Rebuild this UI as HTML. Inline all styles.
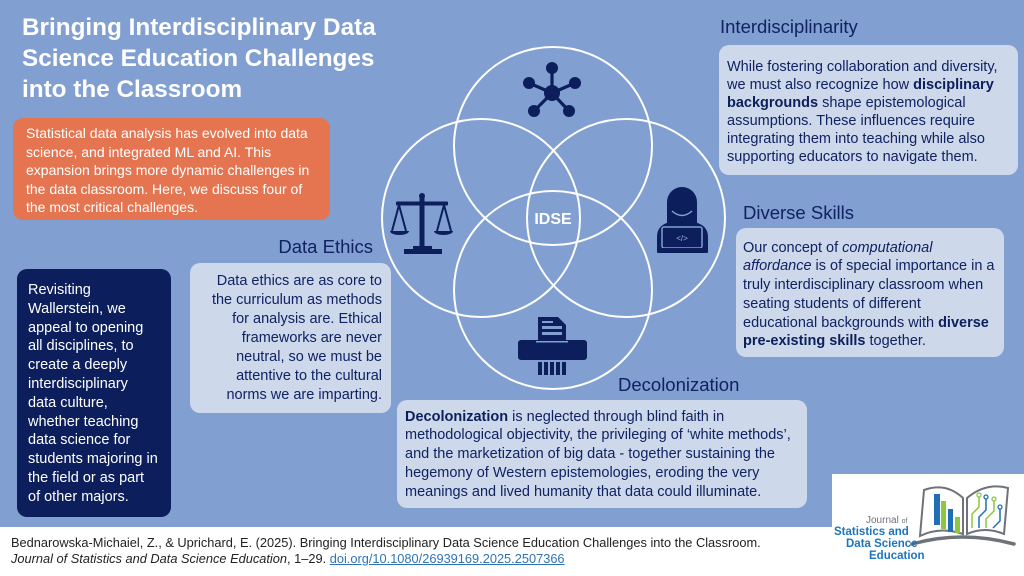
<!DOCTYPE html>
<html><head><meta charset="utf-8">
<style>
*{margin:0;padding:0;box-sizing:border-box}
html,body{width:1024px;height:576px;overflow:hidden}
body{position:relative;background:#819FD0;font-family:"Liberation Sans",sans-serif;}
.abs{position:absolute}
.box{position:absolute;border-radius:10px;white-space:nowrap;font-size:14.5px}
.light{background:#CDD8EA;color:#102262}
.light b{color:#0C1F5C}
.h{position:absolute;font-size:18.5px;color:#102262;white-space:nowrap;line-height:22px}
</style></head>
<body>
<div class="abs" style="left:0;top:527px;width:1024px;height:49px;background:#fff"></div>
<svg class="abs" style="left:0;top:0" width="1024" height="576" viewBox="0 0 1024 576">
  <rect x="832" y="474" width="192" height="102" fill="#fff"/>
  <g fill="none" stroke="#fff" stroke-width="2">
    <circle cx="553" cy="146" r="99"/>
    <circle cx="481" cy="218" r="99"/>
    <circle cx="626" cy="218" r="99"/>
    <circle cx="553" cy="290" r="99"/>
  </g>
  <text x="553" y="224" font-family="Liberation Sans, sans-serif" font-size="16" font-weight="bold" fill="#fff" text-anchor="middle">IDSE</text>

  <!-- network icon -->
  <g stroke="#0C1F5C" stroke-width="3.2">
    <line x1="552" y1="93" x2="552" y2="68"/>
    <line x1="552" y1="93" x2="529" y2="83"/>
    <line x1="552" y1="93" x2="575" y2="83"/>
    <line x1="552" y1="93" x2="534" y2="111"/>
    <line x1="552" y1="93" x2="569" y2="111"/>
  </g>
  <g fill="#0C1F5C">
    <circle cx="552" cy="93" r="8"/>
    <circle cx="552" cy="68" r="6"/>
    <circle cx="529" cy="83" r="6"/>
    <circle cx="575" cy="83" r="6"/>
    <circle cx="534" cy="111" r="6"/>
    <circle cx="569" cy="111" r="6"/>
  </g>

  <!-- scale icon -->
  <g fill="#0C1F5C">
    <circle cx="422" cy="196" r="3"/>
    <rect x="419.5" y="196" width="5" height="52"/>
    <rect x="396" y="201.5" width="52" height="4" rx="1"/>
    <path d="M390 231 H409 A9.5 4 0 0 1 390 231Z"/>
    <path d="M434 231 H453 A9.5 4 0 0 1 434 231Z"/>
    <rect x="413" y="246" width="19" height="3"/>
    <rect x="404" y="249" width="38" height="5"/>
  </g>
  <path d="M399 205 L392 231 M399 205 L406 231 M444 205 L437 231 M444 205 L451 231" stroke="#0C1F5C" stroke-width="2" fill="none"/>

  <!-- person with laptop -->
  <g fill="#0C1F5C">
    <path d="M667 223 V202 A15 15 0 0 1 697 202 V223 Z"/>
    <path d="M657 252 V237 Q657 225 670 222 L694 222 Q708 225 708 237 V252 Z"/>
  </g>
  <path d="M672 211 Q682 220 692 211" stroke="#819FD0" stroke-width="1.5" fill="none"/>
  <rect x="662" y="227" width="40" height="21" rx="2" fill="#0C1F5C" stroke="#819FD0" stroke-width="1.5"/>
  <text x="682" y="241" font-family="Liberation Sans, sans-serif" font-size="8" fill="#9DB4DA" text-anchor="middle">&lt;/&gt;</text>
  <rect x="657" y="248" width="51" height="5" rx="1" fill="#0C1F5C"/>

  <!-- shredder -->
  <path d="M538 317 H558 L566 325 V341 H538 Z" fill="#0C1F5C"/>
  <rect x="542" y="321" width="11" height="2" fill="#819FD0"/>
  <rect x="542" y="326" width="20" height="3" fill="#819FD0"/>
  <rect x="542" y="332" width="20" height="3" fill="#819FD0"/>
  <rect x="518" y="340" width="69" height="20" rx="3" fill="#0C1F5C"/>
  <rect x="536" y="341" width="32" height="1.5" fill="#819FD0"/>
  <g fill="#0C1F5C">
    <rect x="538" y="362" width="4" height="13"/>
    <rect x="544" y="362" width="4" height="13"/>
    <rect x="550" y="362" width="4" height="13"/>
    <rect x="556" y="362" width="4" height="13"/>
    <rect x="562" y="362" width="4" height="13"/>
  </g>

  <!-- logo -->
  <g fill="none" stroke="#6E7379" stroke-linecap="round">
    <path d="M912 544 Q962 530 1014 544" stroke-width="3.5"/>
    <path d="M920 536 L924 490 Q946 482 963 498 L963 534 Q940 526 920 536Z" stroke-width="2"/>
    <path d="M967 498 Q986 482 1008 488 L1004 534 Q985 526 967 534Z" stroke-width="2"/>
  </g>
  <rect x="934" y="494" width="6" height="31" fill="#1F6FB5"/>
  <rect x="941" y="501" width="5" height="28" fill="#8DC63F"/>
  <rect x="948" y="509" width="5" height="23" fill="#1F6FB5"/>
  <rect x="955" y="517" width="5" height="16" fill="#8DC63F"/>
  <g stroke-width="1.5" fill="none">
    <path d="M972 528 V514 L979 507 V497" stroke="#8DC63F"/>
    <path d="M979 528 V517 L986 510 V499" stroke="#1F6FB5"/>
    <path d="M986 528 V519 L994 511 V501" stroke="#8DC63F"/>
    <path d="M993 528 L1000 521 V509" stroke="#1F6FB5"/>
  </g>
  <g fill="#fff" stroke-width="1.3">
    <circle cx="979" cy="495" r="2" stroke="#8DC63F"/>
    <circle cx="986" cy="497" r="2" stroke="#1F6FB5"/>
    <circle cx="994" cy="499" r="2" stroke="#8DC63F"/>
    <circle cx="1000" cy="507" r="2" stroke="#1F6FB5"/>
  </g>
  <g font-family="Liberation Sans, sans-serif">
    <text x="866" y="523" font-size="10" fill="#6E7379">Journal <tspan font-size="7">of</tspan></text>
    <text x="834" y="535" font-size="11.5" font-weight="bold" fill="#1C75BC">Statistics and</text>
    <text x="846" y="547" font-size="11.5" font-weight="bold" fill="#1C75BC">Data Science</text>
    <text x="869" y="559" font-size="11.5" font-weight="bold" fill="#1C75BC">Education</text>
  </g>
</svg>

<div class="abs" style="left:22px;top:12px;color:#fff;font-weight:bold;font-size:24.3px;line-height:31px;white-space:nowrap">Bringing Interdisciplinary Data<br>Science Education Challenges<br>into the Classroom</div>

<div class="box" style="left:13px;top:118px;width:317px;height:102px;background:#E57550;color:#fff;font-size:14px;line-height:18.5px;padding:6px 0 0 13px">Statistical data analysis has evolved into data<br>science, and integrated ML and AI. This<br>expansion brings more dynamic challenges in<br>the data classroom. Here, we discuss four of<br>the most critical challenges.</div>

<div class="h" style="left:720px;top:16px">Interdisciplinarity</div>
<div class="box light" style="left:719px;top:45px;width:299px;height:130px;line-height:18px;padding:13px 0 0 8px">While fostering collaboration and diversity,<br>we must also recognize how <b>disciplinary</b><br><b>backgrounds</b> shape epistemological<br>assumptions. These influences require<br>integrating them into teaching while also<br>supporting educators to navigate them.</div>

<div class="h" style="left:743px;top:202px">Diverse Skills</div>
<div class="box light" style="left:736px;top:228px;width:268px;height:129px;line-height:18.8px;padding:10.5px 0 0 7px">Our concept of <i>computational</i><br><i>affordance</i> is of special importance in a<br>truly interdisciplinary classroom when<br>seating students of different<br>educational backgrounds with <b>diverse</b><br><b>pre-existing skills</b> together.</div>

<div class="h" style="right:651px;top:236px">Data Ethics</div>
<div class="box light" style="left:190px;top:263px;width:201px;height:150px;line-height:19px;padding:9px 9px 0 0;text-align:right">Data ethics are as core to<br>the curriculum as methods<br>for analysis are. Ethical<br>frameworks are never<br>neutral, so we must be<br>attentive to the cultural<br>norms we are imparting.</div>

<div class="box" style="left:17px;top:269px;width:154px;height:248px;background:#0C1F5C;color:#fff;line-height:18.8px;padding:12px 0 0 11px">Revisiting<br>Wallerstein, we<br>appeal to opening<br>all disciplines, to<br>create a deeply<br>interdisciplinary<br>data culture,<br>whether teaching<br>data science for<br>students majoring in<br>the field or as part<br>of other majors.</div>

<div class="h" style="left:618px;top:374px">Decolonization</div>
<div class="box light" style="left:397px;top:400px;width:410px;height:108px;line-height:18.75px;padding:7.5px 0 0 8px"><b>Decolonization</b> is neglected through blind faith in<br>methodological objectivity, the privileging of ‘white methods’,<br>and the marketization of big data - together sustaining the<br>hegemony of Western epistemologies, eroding the very<br>meanings and lived humanity that data could illuminate.</div>

<div class="abs" style="left:11px;top:535px;font-size:12.8px;line-height:16px;color:#222;white-space:nowrap">Bednarowska-Michaiel, Z., &amp; Uprichard, E. (2025). Bringing Interdisciplinary Data Science Education Challenges into the Classroom.<br><i>Journal of Statistics and Data Science Education</i>, 1–29. <span style="color:#2E74B5;text-decoration:underline">doi.org/10.1080/26939169.2025.2507366</span></div>
</body></html>
